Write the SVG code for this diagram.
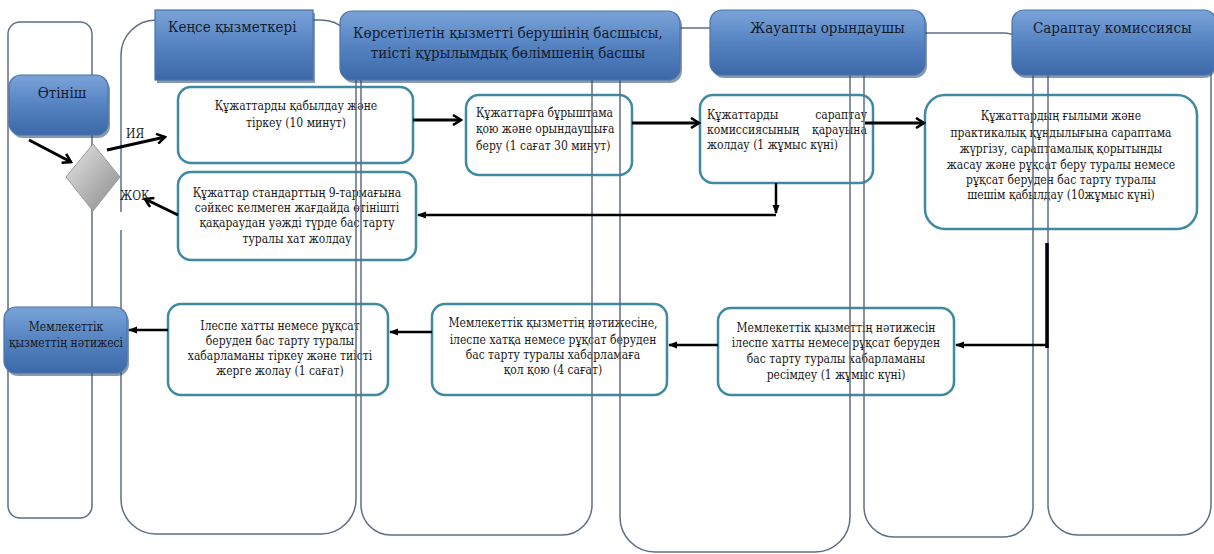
<svg xmlns="http://www.w3.org/2000/svg" width="1214" height="554" viewBox="0 0 1214 554">
<defs>
<linearGradient id="blue" x1="0" y1="0" x2="0" y2="1">
<stop offset="0" stop-color="#7aa3d8"/>
<stop offset="0.5" stop-color="#5583c2"/>
<stop offset="1" stop-color="#3c68a8"/>
</linearGradient>
<linearGradient id="gray" x1="0" y1="0" x2="1" y2="1">
<stop offset="0" stop-color="#e6e6e6"/>
<stop offset="1" stop-color="#8a8a8a"/>
</linearGradient>
<marker id="chev" viewBox="0 0 12 12" refX="10" refY="6" markerWidth="12" markerHeight="12" markerUnits="userSpaceOnUse" orient="auto">
<path d="M2,1 L10,6 L2,11" fill="none" stroke="#000" stroke-width="2.6"/>
</marker>
<marker id="tri" viewBox="0 0 10 10" refX="9" refY="5" markerWidth="9" markerHeight="9" markerUnits="userSpaceOnUse" orient="auto">
<path d="M0,1 L10,5 L0,9 Z" fill="#000"/>
</marker>
</defs>
<style>
.lane{fill:none;stroke:#5f6e82;stroke-width:1.5}
.box{fill:#fff;stroke:#3f8aa0;stroke-width:2.5}
.hdr{fill:url(#blue);stroke:#4a72a8;stroke-width:1.2}
.shd{fill:#24466e;opacity:0.55}
.t{font-size:12px;fill:#1a1a1a;font-stretch:condensed}
.c{text-anchor:middle}
.h{font-size:15px;fill:#141c2c;font-stretch:condensed}
.ln{fill:none;stroke:#000;stroke-width:3}
.lt{fill:none;stroke:#000;stroke-width:2.5}
</style>
<rect width="1214" height="554" fill="#fff"/>

<g font-family="DejaVu Serif, serif">
<!-- process boxes -->
<g id="b1"><rect class="box" x="178" y="87" width="235" height="76" rx="13"/>
<text class="t c" x="296" y="110">Құжаттарды қабылдау және</text>
<text class="t c" x="296" y="127">тіркеу (10 минут)</text></g>
<g id="b2"><rect class="box" x="178" y="172" width="238" height="88" rx="13"/>
<text class="t c" x="297" y="197">Құжаттар стандарттың  9-тармағына</text>
<text class="t c" x="297" y="212">сәйкес келмеген жағдайда өтінішті</text>
<text class="t c" x="297" y="227">қақараудан уәжді түрде бас тарту</text>
<text class="t c" x="297" y="243">туралы хат жолдау</text></g>
<g id="b3"><rect class="box" x="466" y="95" width="166" height="80" rx="13"/>
<text class="t" x="476" y="117">Құжаттарға бұрыштама</text>
<text class="t" x="476" y="133">қою және орындаушыға</text>
<text class="t" x="476" y="150">беру  (1 сағат 30 минут)</text></g>
<g id="b4"><rect class="box" x="700" y="95" width="173" height="88" rx="13"/>
<text class="t" x="707" y="119">Құжаттарды</text><text class="t" x="867" y="119" text-anchor="end">сараптау</text>
<text class="t" x="707" y="134">комиссиясының</text><text class="t" x="867" y="134" text-anchor="end">қарауына</text>
<text class="t" x="707" y="149">жолдау (1 жұмыс күні)</text></g>
<g id="b5"><rect class="box" x="925" y="95" width="272" height="134" rx="20"/>
<text class="t c" x="1061" y="120">Құжаттардың ғылыми және</text>
<text class="t c" x="1061" y="137">практикалық құндылығына сараптама</text>
<text class="t c" x="1061" y="153">жүргізу, сараптамалық қорытынды</text>
<text class="t c" x="1061" y="169">жасау  және рұқсат беру туралы немесе</text>
<text class="t c" x="1061" y="184">рұқсат беруден бас тарту туралы</text>
<text class="t c" x="1061" y="199">шешім қабылдау (10жұмыс күні)</text></g>
<g id="b6"><rect class="box" x="718" y="308" width="236" height="87" rx="13"/>
<text class="t c" x="836" y="332">Мемлекеттік қызметтің нәтижесін</text>
<text class="t c" x="836" y="347">ілеспе хатты немесе рұқсат  беруден</text>
<text class="t c" x="836" y="363">бас тарту  туралы хабарламаны</text>
<text class="t c" x="836" y="379">ресімдеу (1 жұмыс күні)</text></g>
<g id="b7"><rect class="box" x="432" y="304" width="235" height="91" rx="13"/>
<text class="t c" x="553" y="327">Мемлекеттік қызметтің нәтижесіне,</text>
<text class="t c" x="553" y="344">ілеспе хатқа немесе рұқсат  беруден</text>
<text class="t c" x="553" y="359">бас тарту  туралы хабарламаға</text>
<text class="t c" x="553" y="374">қол  қою (4 сағат)</text></g>
<g id="b8"><rect class="box" x="168" y="304" width="220" height="91" rx="13"/>
<text class="t c" x="280" y="330">Ілеспе хатты немесе рұқсат</text>
<text class="t c" x="280" y="345">беруден бас тарту  туралы</text>
<text class="t c" x="280" y="360">хабарламаны тіркеу және тиісті</text>
<text class="t c" x="280" y="375">жерге жолау (1 сағат)</text></g>

<!-- swimlanes -->
<g id="lanes">
<rect class="lane" x="8" y="22" width="84" height="496" rx="12"/>
<path class="lane" d="M121,212 V55 A35,35 0 0 1 156,20 H321 A35,35 0 0 1 356,55 V499 A35,35 0 0 1 321,534 H156 A35,35 0 0 1 121,499 V230"/>
<rect class="lane" x="361" y="20" width="231" height="515" rx="30"/>
<rect class="lane" x="620" y="28" width="230" height="524" rx="35"/>
<rect class="lane" x="864" y="33" width="169" height="504" rx="30"/>
<rect class="lane" x="1048" y="30" width="163" height="505" rx="30"/>
</g>

<!-- headers -->
<g id="h-otinish"><rect class="shd" x="11" y="78" width="99" height="60" rx="12"/>
<rect class="hdr" x="9" y="75" width="99" height="60" rx="12"/>
<text class="h c" x="62" y="98">Өтініш</text></g>
<g id="h-kense"><rect class="shd" x="157" y="13" width="158" height="70"/>
<rect class="hdr" x="155" y="10" width="158" height="70"/>
<text class="h" x="168" y="32">Кеңсе қызметкері</text></g>
<g id="h-basshy"><rect class="shd" x="342" y="14" width="340" height="69" rx="12"/>
<rect class="hdr" x="340" y="11" width="340" height="69" rx="12"/>
<text class="h c" x="508" y="38">Көрсетілетін қызметті берушінің басшысы,</text>
<text class="h c" x="508" y="58">тиісті құрылымдық бөлімшенің басшы</text></g>
<g id="h-zhauapty"><rect class="shd" x="712" y="13" width="215" height="65" rx="12"/>
<rect class="hdr" x="710" y="10" width="215" height="65" rx="12"/>
<text class="h" x="750" y="33">Жауапты орындаушы</text></g>
<g id="h-saraptau"><rect class="shd" x="1014" y="13" width="202" height="65" rx="12"/>
<rect class="hdr" x="1012" y="10" width="204" height="65" rx="12"/>
<text class="h" x="1033" y="33">Сараптау комиссиясы</text></g>
<g id="h-result"><rect class="shd" x="6" y="310" width="123" height="66" rx="12"/>
<rect class="hdr" x="4" y="307" width="123" height="66" rx="12"/>
<text class="t c" x="66" y="331">Мемлекеттік</text>
<text class="t c" x="66" y="347">қызметтің нәтижесі</text></g>

<g id="decision"><path d="M93,144 L120,177 L93,211 L66,177 Z" fill="url(#gray)" stroke="#9a9a9a" stroke-width="1"/></g>

<!-- connectors -->
<g id="connectors">
<line class="ln" x1="29" y1="140" x2="71" y2="162" marker-end="url(#chev)"/>
<line class="ln" x1="107" y1="150" x2="165" y2="137" marker-end="url(#chev)"/>
<line class="ln" x1="178" y1="215" x2="145" y2="199" marker-end="url(#chev)"/>
<line class="ln" x1="413" y1="120" x2="461" y2="120" marker-end="url(#chev)"/>
<line class="ln" x1="632" y1="123" x2="699" y2="123" marker-end="url(#chev)"/>
<line class="ln" x1="865" y1="123" x2="924" y2="123" marker-end="url(#chev)"/>
<line class="lt" x1="776" y1="183" x2="776" y2="213" marker-end="url(#tri)"/>
<line class="lt" x1="776" y1="215" x2="418" y2="215" marker-end="url(#tri)"/>
<polyline class="ln" points="1047,243 1047,348" style="stroke-width:3.5"/>
<line class="lt" x1="1047" y1="345" x2="956" y2="345" marker-end="url(#tri)"/>
<line class="lt" x1="718" y1="345" x2="669" y2="345" marker-end="url(#tri)"/>
<line class="lt" x1="432" y1="332" x2="390" y2="332" marker-end="url(#tri)"/>
<line class="lt" x1="168" y1="330" x2="129" y2="330" marker-end="url(#tri)"/>
<text class="t" x="126" y="138">ИЯ</text>
<text class="t" x="120" y="200">ЖОК</text>
</g>
</g>
</svg>
